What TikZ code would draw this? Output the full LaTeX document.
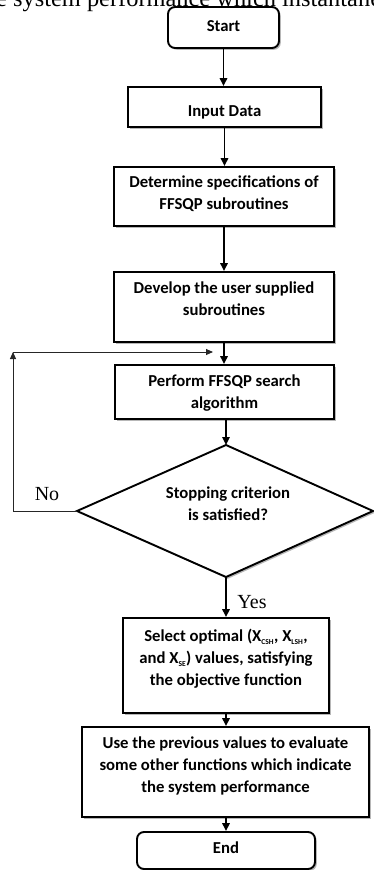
\documentclass[tikz,border=0pt]{standalone}
\usepackage{fontspec}
\setmainfont{Liberation Serif}
\newfontfamily\boxfont{Carlito}
\usetikzlibrary{arrows.meta,shadows}
\begin{document}
\begin{tikzpicture}[x=1pt,y=-1pt,
  shd/.style={drop shadow={shadow xshift=1.8pt,shadow yshift=-1.8pt,fill=black!40,opacity=0.7}},
  box/.style={draw, line width=1.9pt, fill=white, rectangle, inner sep=0pt, shd},
  rbox/.style={box, rounded corners=7pt},
  txt/.style={font=\boxfont\bfseries\fontsize{16.7}{22}\selectfont, align=center, inner sep=0pt},
  arr/.style={line width=1.6pt, -{Triangle[length=8pt,width=7.5pt]}},
  back/.style={line width=0.9pt, draw=black!85},
  backarr/.style={back, -{Triangle[length=7pt,width=6pt]}},
  lbl/.style={font=\fontsize{20}{24}\selectfont, inner sep=0pt}]
\path[use as bounding box] (0,0) rectangle (374,870);
\clip (0,0) rectangle (374,870);

% cropped caption line
\node[font=\fontsize{24.4}{28}\selectfont, inner sep=0pt, anchor=base west] (cap) at (-4,6) {e system performance which instantaneously};

% boxes
\node[rbox, minimum width=111pt, minimum height=41pt] (start) at (223.5,27.5) {};
\node[txt] (startT) at (223.5,26) {Start};

\node[box, minimum width=193pt, minimum height=40pt] (input) at (224.5,107) {};
\node[txt] (inputT) at (224.5,112) {Input Data};

\node[box, minimum width=220pt, minimum height=59pt] (determine) at (224,196.5) {};
\node[txt] (determineT) at (224,194) {Determine specifications of\\FFSQP subroutines};

\node[box, minimum width=220pt, minimum height=70pt] (develop) at (224,307) {};
\node[txt] (developT) at (224,298.5) {Develop the user supplied\\subroutines};

\node[box, minimum width=219pt, minimum height=54pt] (perform) at (224.5,392) {};
\node[txt] (performT) at (224.5,393) {Perform FFSQP search\\algorithm};

% decision diamond
\coordinate (dt) at (226,445);
\coordinate (dr) at (373,511);
\coordinate (db) at (226,577);
\coordinate (dl) at (77,511);
\path[draw, line width=1.9pt, fill=white, shd] (dt) -- (dr) -- (db) -- (dl) -- cycle;
\node[txt] (decT) at (228,503.5) {Stopping criterion\\is satisfied?};

\node[box, minimum width=206pt, minimum height=95pt] (select) at (226,665.5) {};
\node[txt] (selectT) at (226,659) {Select optimal (X\textsubscript{\fontsize{7.5}{8}\selectfont CSH}, X\textsubscript{\fontsize{7.5}{8}\selectfont LSH},\\and X\textsubscript{\fontsize{7.5}{8}\selectfont SE}) values, satisfying\\the objective function};

\node[box, minimum width=287pt, minimum height=90pt] (use) at (225.5,772) {};
\node[txt] (useT) at (225.5,766) {Use the previous values to evaluate\\some other functions which indicate\\the system performance};

\node[rbox, minimum width=178pt, minimum height=37pt] (end) at (226,850.5) {};
\node[txt] (endT) at (226,848) {End};

% main arrows
\draw[arr] (start.south) -- (start.south |- input.north);
\draw[arr] (input.south) -- (input.south |- determine.north);
\draw[arr] (determine.south) -- (determine.south |- develop.north);
\draw[arr] (develop.south) -- (develop.south |- perform.north);
\draw[arr] (dt |- perform.south) -- (dt);
\draw[arr] (db) -- (db |- select.north);
\draw[arr] (db |- select.south) -- (db |- use.north);
\draw[arr] (db |- use.south) -- (db |- end.north);

% loop back
\coordinate (lc) at (13,352);
\coordinate (le) at (213,352);
\draw[backarr] (dl) -- (lc |- dl) -- (lc);
\draw[backarr] (lc) -- (le);

% labels
\node[lbl] (no) at (47,494) {No};
\node[lbl] (yes) at (252,602) {Yes};
\end{tikzpicture}
\end{document}
